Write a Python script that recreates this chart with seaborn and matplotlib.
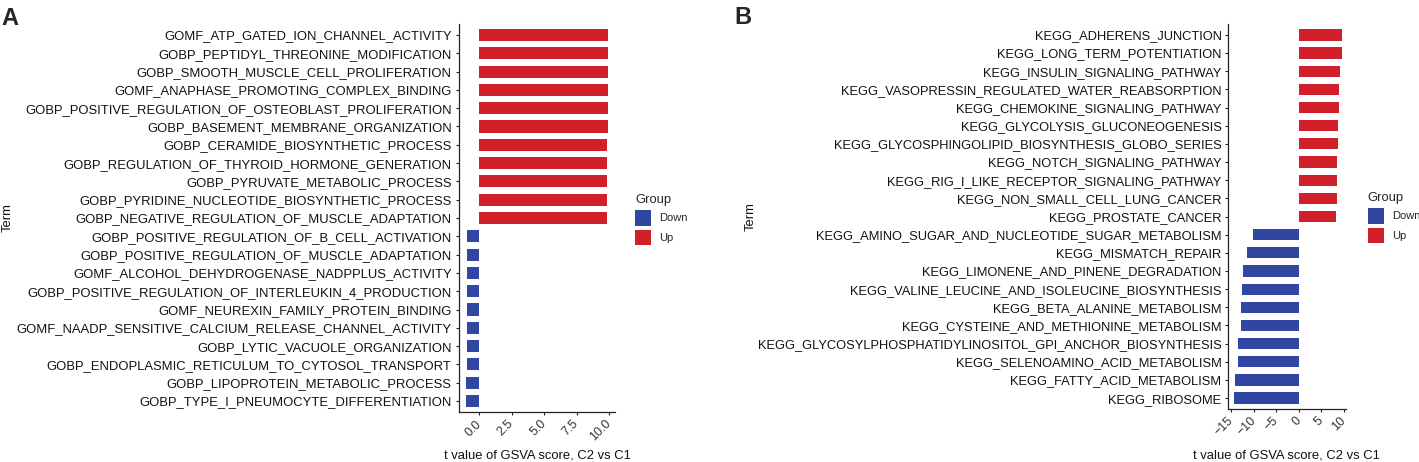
import matplotlib
matplotlib.use("Agg")
import matplotlib.pyplot as plt
import matplotlib.transforms as mtransforms
import seaborn as sns
import pandas as pd

# ---------------- data ----------------
terms_a = [
    "GOMF_ATP_GATED_ION_CHANNEL_ACTIVITY",
    "GOBP_PEPTIDYL_THREONINE_MODIFICATION",
    "GOBP_SMOOTH_MUSCLE_CELL_PROLIFERATION",
    "GOMF_ANAPHASE_PROMOTING_COMPLEX_BINDING",
    "GOBP_POSITIVE_REGULATION_OF_OSTEOBLAST_PROLIFERATION",
    "GOBP_BASEMENT_MEMBRANE_ORGANIZATION",
    "GOBP_CERAMIDE_BIOSYNTHETIC_PROCESS",
    "GOBP_REGULATION_OF_THYROID_HORMONE_GENERATION",
    "GOBP_PYRUVATE_METABOLIC_PROCESS",
    "GOBP_PYRIDINE_NUCLEOTIDE_BIOSYNTHETIC_PROCESS",
    "GOBP_NEGATIVE_REGULATION_OF_MUSCLE_ADAPTATION",
    "GOBP_POSITIVE_REGULATION_OF_B_CELL_ACTIVATION",
    "GOBP_POSITIVE_REGULATION_OF_MUSCLE_ADAPTATION",
    "GOMF_ALCOHOL_DEHYDROGENASE_NADPPLUS_ACTIVITY",
    "GOBP_POSITIVE_REGULATION_OF_INTERLEUKIN_4_PRODUCTION",
    "GOMF_NEUREXIN_FAMILY_PROTEIN_BINDING",
    "GOMF_NAADP_SENSITIVE_CALCIUM_RELEASE_CHANNEL_ACTIVITY",
    "GOBP_LYTIC_VACUOLE_ORGANIZATION",
    "GOBP_ENDOPLASMIC_RETICULUM_TO_CYTOSOL_TRANSPORT",
    "GOBP_LIPOPROTEIN_METABOLIC_PROCESS",
    "GOBP_TYPE_I_PNEUMOCYTE_DIFFERENTIATION",
]
values_a = [9.92, 9.92, 9.91, 9.90, 9.90, 9.89, 9.88, 9.88, 9.87, 9.86, 9.85,
            -0.97, -0.97, -0.98, -0.98, -0.98, -0.99, -0.99, -0.99, -1.00, -1.00]
groups_a = ["Up"] * 11 + ["Down"] * 10

terms_b = [
    "KEGG_ADHERENS_JUNCTION",
    "KEGG_LONG_TERM_POTENTIATION",
    "KEGG_INSULIN_SIGNALING_PATHWAY",
    "KEGG_VASOPRESSIN_REGULATED_WATER_REABSORPTION",
    "KEGG_CHEMOKINE_SIGNALING_PATHWAY",
    "KEGG_GLYCOLYSIS_GLUCONEOGENESIS",
    "KEGG_GLYCOSPHINGOLIPID_BIOSYNTHESIS_GLOBO_SERIES",
    "KEGG_NOTCH_SIGNALING_PATHWAY",
    "KEGG_RIG_I_LIKE_RECEPTOR_SIGNALING_PATHWAY",
    "KEGG_NON_SMALL_CELL_LUNG_CANCER",
    "KEGG_PROSTATE_CANCER",
    "KEGG_AMINO_SUGAR_AND_NUCLEOTIDE_SUGAR_METABOLISM",
    "KEGG_MISMATCH_REPAIR",
    "KEGG_LIMONENE_AND_PINENE_DEGRADATION",
    "KEGG_VALINE_LEUCINE_AND_ISOLEUCINE_BIOSYNTHESIS",
    "KEGG_BETA_ALANINE_METABOLISM",
    "KEGG_CYSTEINE_AND_METHIONINE_METABOLISM",
    "KEGG_GLYCOSYLPHOSPHATIDYLINOSITOL_GPI_ANCHOR_BIOSYNTHESIS",
    "KEGG_SELENOAMINO_ACID_METABOLISM",
    "KEGG_FATTY_ACID_METABOLISM",
    "KEGG_RIBOSOME",
]
values_b = [9.6, 9.5, 9.1, 9.0, 8.9, 8.8, 8.7, 8.6, 8.5, 8.4, 8.3,
            -10.2, -11.6, -12.4, -12.6, -12.9, -12.9, -13.6, -13.6, -14.3, -14.4]
groups_b = ["Up"] * 11 + ["Down"] * 10

xticks_a = [0, 2.5, 5, 7.5, 10]
xticklabels_a = ["0.0", "2.5", "5.0", "7.5", "10.0"]
xticks_b = [-15, -10, -5, 0, 5, 10]

hue_order = ["Down", "Up"]
palette = {"Down": "#3046A0", "Up": "#D1202A"}
xlabel = "t value of GSVA score, C2 vs C1"

# ---------------- style ----------------
sns.set_theme(style="white")
plt.rcParams["font.family"] = ["Liberation Sans", "DejaVu Sans"]

W, H = 1419, 462
fig = plt.figure(figsize=(W / 100, H / 100), dpi=100)


def fx(px):
    return px / W


def fy(py):
    return 1 - py / H


def panel(left, right, top, bottom, terms, values, groups, xlim, xticks, xticklabels,
          leg_x, leg_y, term_x, bar_w, ypad, yfs):
    ax = fig.add_axes([fx(left), fy(bottom), fx(right) - fx(left), fy(top) - fy(bottom)])
    df = pd.DataFrame({"Term": terms, "t": values, "Group": groups})
    sns.barplot(data=df, x="t", y="Term", hue="Group", hue_order=hue_order,
                order=terms, palette=palette, dodge=False, width=bar_w,
                linewidth=0, saturation=1, ax=ax)
    ax.set_xlim(*xlim)
    ax.set_ylim(len(terms) - 0.4, -0.6)
    ax.set_xticks(xticks)
    ax.set_xticklabels(xticklabels, rotation=45, ha="right", va="center",
                       rotation_mode="anchor", fontsize=9.0, color="#333333")
    off = mtransforms.ScaledTranslation(3 / 100, 0, fig.dpi_scale_trans)
    for lab in ax.get_xticklabels():
        lab.set_transform(lab.get_transform() + off)
    for lab in ax.get_yticklabels():
        lab.set_fontsize(yfs)
        lab.set_color("#111111")
    for s in ["top", "right"]:
        ax.spines[s].set_visible(False)
    for s in ["left", "bottom"]:
        ax.spines[s].set_color("#222222")
        ax.spines[s].set_linewidth(0.9)
    ax.tick_params(axis="both", which="both", length=2.3, width=0.8, color="#222222",
                   left=True, bottom=True)
    ax.tick_params(axis="y", pad=ypad)
    ax.tick_params(axis="x", pad=5.0)
    ax.set_xlabel(xlabel, fontsize=9.4, color="#111111")
    ax.set_ylabel("Term", fontsize=9.4, color="#111111")
    ax.xaxis.set_label_coords(fx((left + right) / 2), fy(449), transform=fig.transFigure)
    ax.yaxis.set_label_coords(fx(term_x), fy((top + bottom) / 2), transform=fig.transFigure)
    sns.move_legend(ax, loc="upper left", bbox_to_anchor=(fx(leg_x), fy(leg_y)),
                    bbox_transform=fig.transFigure, frameon=False, title="Group",
                    fontsize=8.0, title_fontsize=9.4, borderpad=0, borderaxespad=0,
                    handlelength=1.46, handleheight=1.8, labelspacing=0.35,
                    handletextpad=0.75, alignment="left")
    return ax


panel(459, 615, 24, 412, terms_a, values_a, groups_a, (-1.57, 10.46), xticks_a,
      xticklabels_a, 635, 194, 14, 0.66, 3.0, 9.35)
panel(1227.7, 1346, 24, 409, terms_b, values_b, groups_b, (-15.84, 10.5), xticks_b,
      [str(v).replace("-", "\u2212") for v in xticks_b], 1367.5, 192, 757, 0.62, 2.2, 9.25)

fig.text(fx(1), fy(7), "A", fontsize=17, fontweight="bold", va="top", ha="left")
fig.text(fx(734), fy(6), "B", fontsize=17, fontweight="bold", va="top", ha="left")

fig.savefig("out.png", dpi=100)
